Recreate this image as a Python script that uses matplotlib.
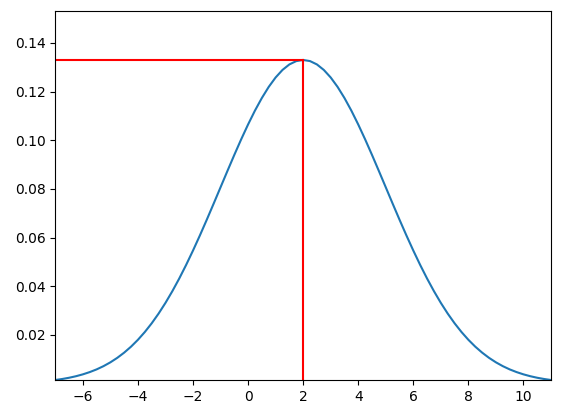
import numpy as np
from matplotlib import pyplot as plt

# values (bell shape centred at x=2), every 0.25
x_vals = [-7, -6.75, -6.5, -6.25, -6, -5.75, -5.5, -5.25, -5, -4.75, -4.5, -4.25,
          -4, -3.75, -3.5, -3.25, -3, -2.75, -2.5, -2.25, -2, -1.75, -1.5, -1.25,
          -1, -0.75, -0.5, -0.25, 0, 0.25, 0.5, 0.75, 1, 1.25, 1.5, 1.75,
          2, 2.25, 2.5, 2.75, 3, 3.25, 3.5, 3.75, 4, 4.25, 4.5, 4.75,
          5, 5.25, 5.5, 5.75, 6, 6.25, 6.5, 6.75, 7, 7.25, 7.5, 7.75,
          8, 8.25, 8.5, 8.75, 9, 9.25, 9.5, 9.75, 10, 10.25, 10.5, 10.75, 11]
y_vals = [0.00148, 0.00189, 0.00240, 0.00303, 0.00380, 0.00473, 0.00584, 0.00717,
          0.00874, 0.01058, 0.01272, 0.01518, 0.01800, 0.02119, 0.02477, 0.02876,
          0.03316, 0.03797, 0.04317, 0.04875, 0.05467, 0.06088, 0.06733, 0.07395,
          0.08066, 0.08736, 0.09397, 0.10038, 0.10648, 0.11218, 0.11735, 0.12192,
          0.12579, 0.12889, 0.13115, 0.13252,
          0.13298,
          0.13252, 0.13115, 0.12889, 0.12579, 0.12192, 0.11735, 0.11218, 0.10648,
          0.10038, 0.09397, 0.08736, 0.08066, 0.07395, 0.06733, 0.06088, 0.05467,
          0.04875, 0.04317, 0.03797, 0.03316, 0.02876, 0.02477, 0.02119, 0.01800,
          0.01518, 0.01272, 0.01058, 0.00874, 0.00717, 0.00584, 0.00473, 0.00380,
          0.00303, 0.00240, 0.00189, 0.00148]
peak_x = 2
peak_y = 0.13298

fig = plt.figure(figsize=(5.82, 4.13), dpi=100)
ax = fig.add_axes([55.3 / 582, 1 - 380 / 413, (551 - 55.3) / 582, (380 - 11.3) / 413])
ax.plot(x_vals, y_vals)
ymin = min(y_vals)
ax.set_xlim(min(x_vals), max(x_vals))
ax.set_ylim(ymin, peak_y + 0.02)
ax.plot([min(x_vals), peak_x], [peak_y, peak_y], color='red')
ax.plot([peak_x, peak_x], [ymin, peak_y], color='red')
fig.savefig('out.png')
